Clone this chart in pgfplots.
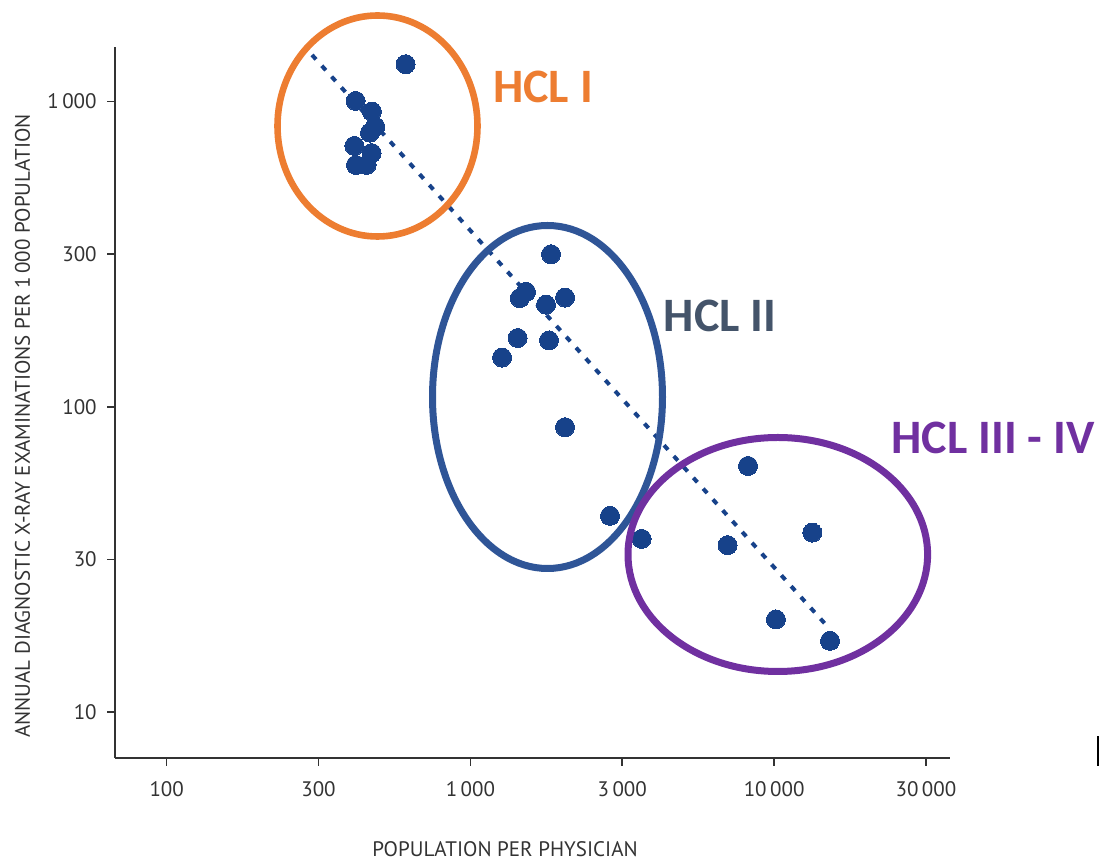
\documentclass[border=0pt]{standalone}
\usepackage{pgfplots}
\pgfplotsset{compat=1.18}
\usepackage{fontspec}
\setmainfont{PT Sans}
\newfontfamily\hclfont{Carlito}
\definecolor{dotblue}{HTML}{17428A}
\definecolor{hclorange}{HTML}{ED7D31}
\definecolor{hclblue}{HTML}{2F5597}
\definecolor{hclslate}{HTML}{44546A}
\definecolor{hclpurple}{HTML}{7030A0}
\definecolor{axisgray}{HTML}{333333}
\begin{document}
\begin{tikzpicture}[x=1pt,y=1pt]
\useasboundingbox (0,0) rectangle (549.5,431);
\begin{axis}[
  at={(57.5pt,52.15pt)}, anchor=south west,
  scale only axis, width=417.5pt, height=355.35pt,
  xmode=log, ymode=log,
  xmin=67.6, xmax=37950, ymin=7.08, ymax=1510,
  axis lines*=left,
  axis line style={axisgray, line width=1.1pt},
  tick align=outside, major tick length=4pt,
  tick style={axisgray, line width=0.8pt},
  minor tick style={draw=none},
  xtick={100,316.23,1000,3162.3,10000,31623},
  xticklabels={100,300,1\,000,3\,000,10\,000,30\,000},
  ytick={10,31.623,100,316.23,1000},
  yticklabels={10,30,100,300,1\,000},
  /pgf/number format/assume math mode=true,
  ticklabel style={font=\fontsize{10.5}{12.5}\selectfont, text=axisgray},
  xticklabel style={anchor=north, inner sep=0pt, yshift=-8pt},
  yticklabel style={anchor=east, inner sep=0pt, xshift=-5pt},
  clip=false,
]
\addplot[dotblue, line width=2pt, dash pattern=on 3pt off 4.3pt] coordinates {(301,1422) (15170,18.8)};
\addplot[only marks, mark=*, mark size=4.75pt, mark options={fill=dotblue, draw=dotblue, line width=0pt}] table {
x y
612 1326
419 1005
474 927
486 828
467 791
415 716
473 678
420 620
455 620
1843 316
1524 238
1455 227
2049 228
1774 216
1431 168
1815 165
1271 145
2049 85.7
2882 43.9
3664 36.9
8204 64.0
7030 35.2
13360 38.7
10140 20.1
15280 17.1
};
\end{axis}
% group ellipses
\draw[hclorange, line width=3.3pt] (188.75,368) ellipse [x radius=50, y radius=55.25];
\draw[hclblue, line width=3.5pt] (273.75,232.5) ellipse [x radius=57.5, y radius=85.75];
\draw[hclpurple, line width=3.5pt] (388.9,153.75) ellipse [x radius=74.9, y radius=58.5];
% group labels
\node[hclorange, font=\hclfont\bfseries\fontsize{24}{28}\selectfont] at (271.5,387.5) {HCL I};
\node[hclslate, font=\hclfont\bfseries\fontsize{24}{28}\selectfont] at (360,273) {HCL II};
\node[hclpurple, font=\hclfont\bfseries\fontsize{24}{28}\selectfont] at (496.5,212) {HCL III - IV};
% axis titles
\node[text=axisgray, inner sep=0pt, anchor=base, font=\fontsize{10.5}{12.5}\selectfont] at (252.5,2.6) {POPULATION PER PHYSICIAN};
\node[text=axisgray, font=\fontsize{10.5}{12.5}\selectfont, rotate=90] at (11.2,218) {ANNUAL DIAGNOSTIC X-RAY EXAMINATIONS PER 1\,000 POPULATION};
\draw[black, line width=1pt] (548.9,48) -- (548.9,63);
\end{tikzpicture}
\end{document}
